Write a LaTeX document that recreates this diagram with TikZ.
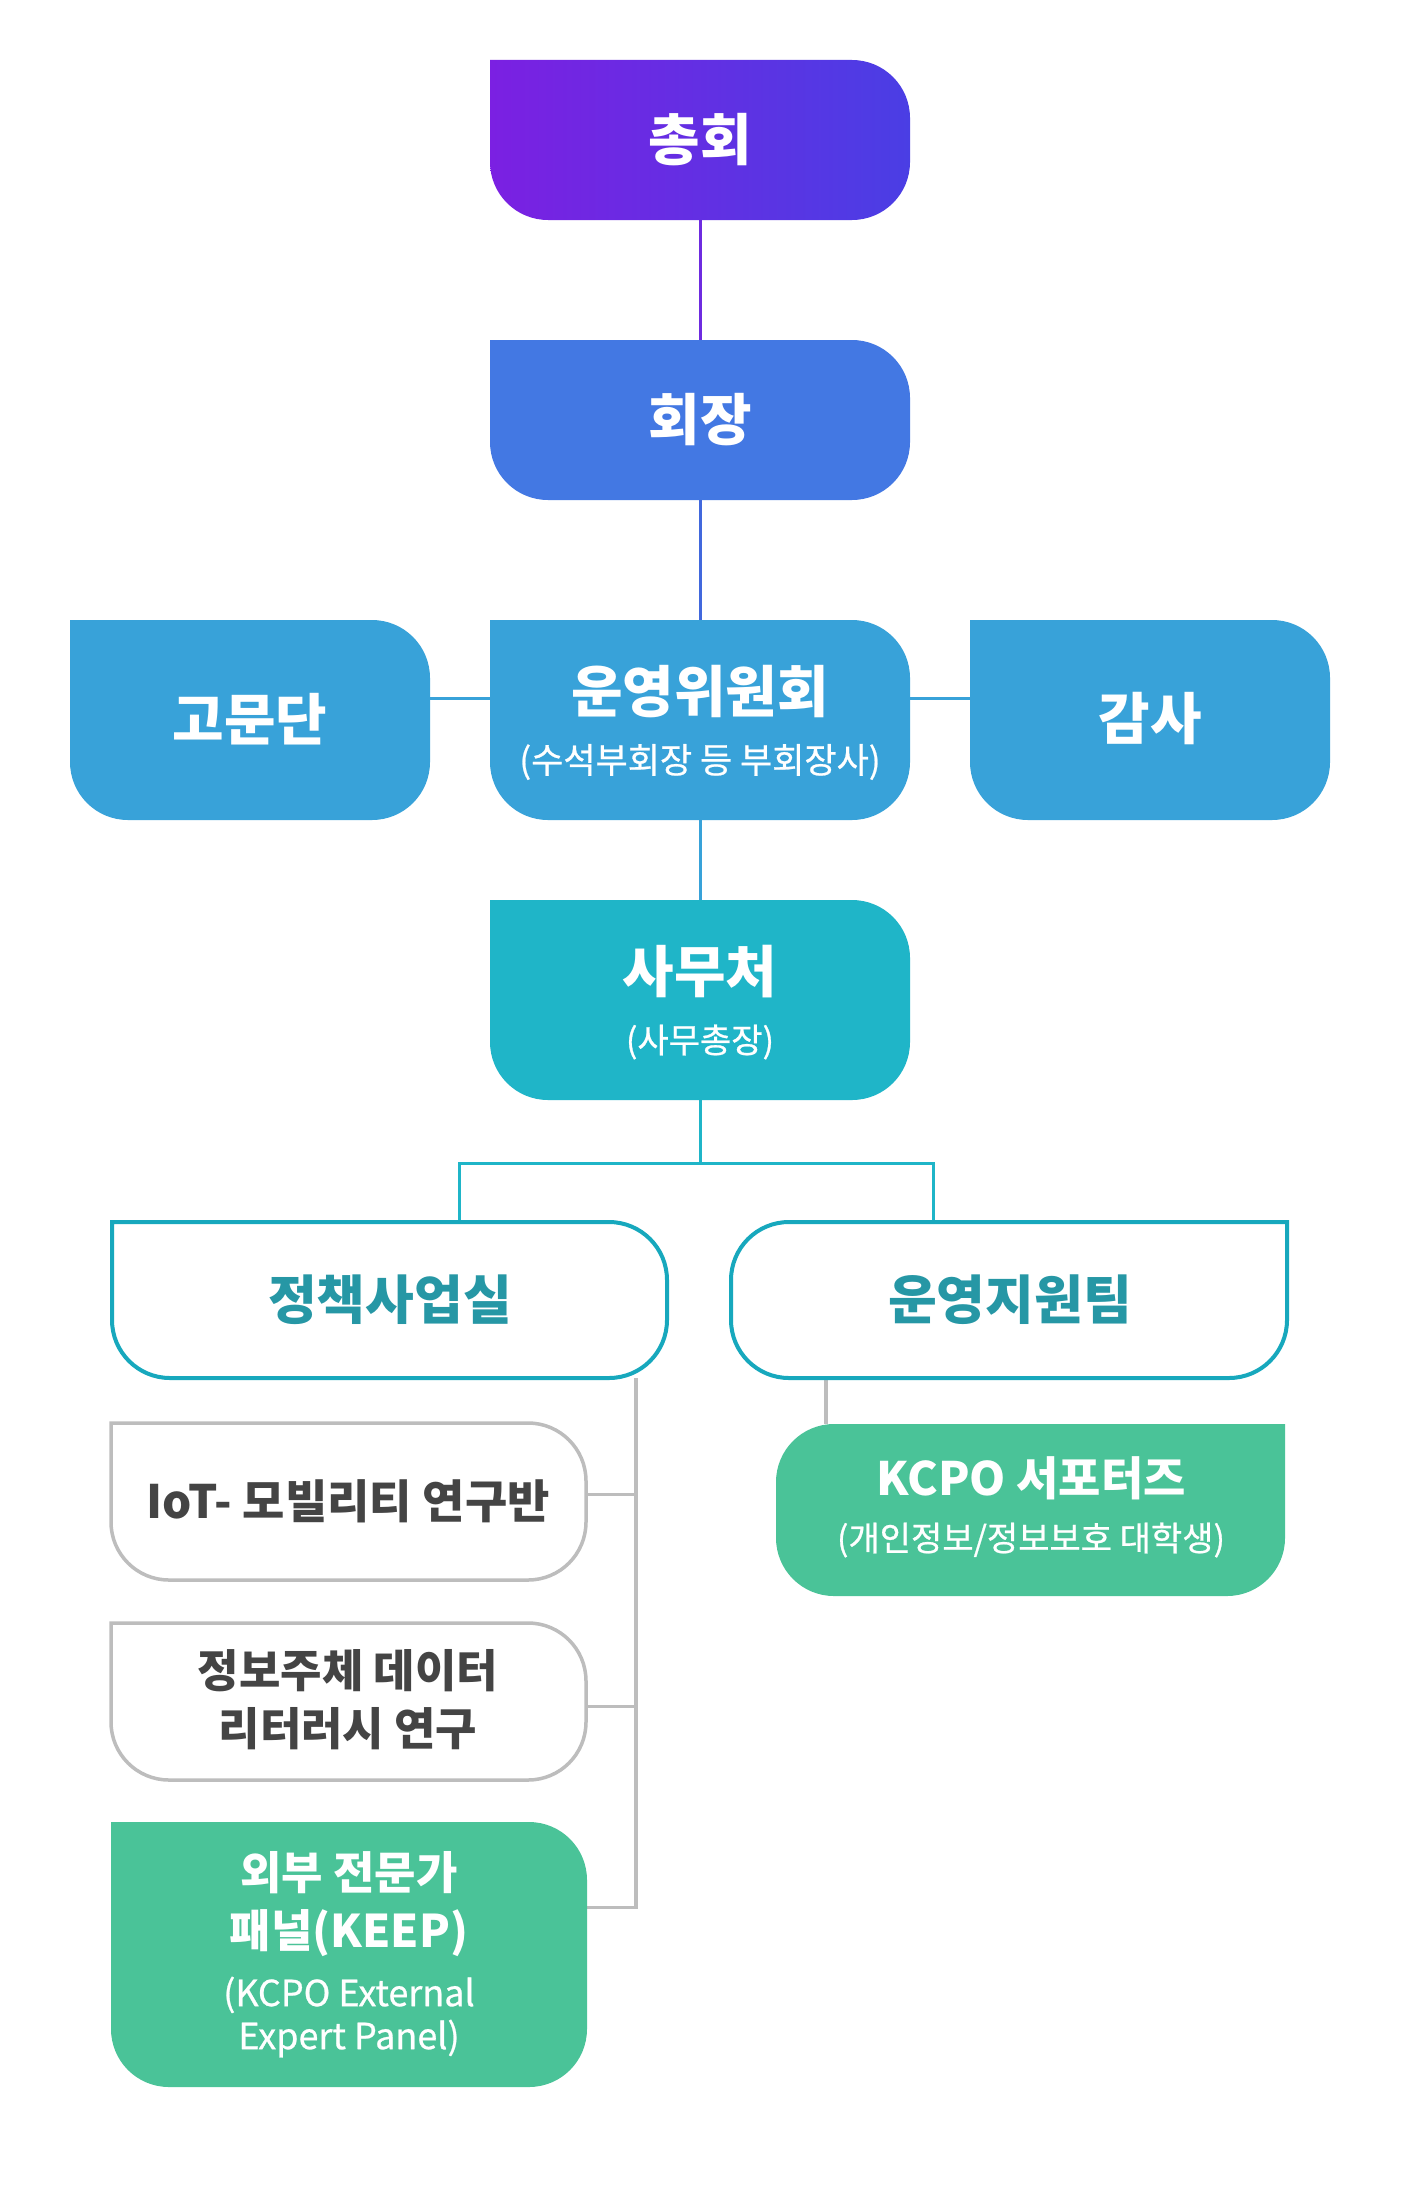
\documentclass[tikz,border=0pt]{standalone}
\usepackage{fontspec}
\newfontfamily\kr{Noto Sans CJK KR}
\newfontfamily\krs{Noto Sans CJK KR}[FakeBold=0.7]
\usetikzlibrary{calc,backgrounds}
\definecolor{cPurpleL}{HTML}{7B20E2}
\definecolor{cPurpleR}{HTML}{4A3EE4}
\definecolor{cBlue}{HTML}{4378E3}
\definecolor{cSky}{HTML}{38A2D9}
\definecolor{cCyan}{HTML}{1FB5C8}
\definecolor{cTealLine}{HTML}{17A8BD}
\definecolor{cTealText}{HTML}{2697A5}
\definecolor{cGreen}{HTML}{4AC398}
\definecolor{cGray}{HTML}{BDBDBD}
\definecolor{cDark}{HTML}{444444}
\definecolor{cLink1}{HTML}{6E2BE0}
\definecolor{cLink2}{HTML}{4168DD}
\newcommand\sqTL[2]{\path[#2] (#1.north west) -- ($(#1.north east)+(-58pt,0)$) arc[start angle=90,end angle=0,radius=58pt] -- ($(#1.south east)+(0,58pt)$) arc[start angle=0,end angle=-90,radius=58pt] -- ($(#1.south west)+(58pt,0)$) arc[start angle=270,end angle=180,radius=58pt] -- cycle;}
\newcommand\sqTR[2]{\path[#2] (#1.north east) -- ($(#1.south east)+(0,58pt)$) arc[start angle=0,end angle=-90,radius=58pt] -- ($(#1.south west)+(58pt,0)$) arc[start angle=270,end angle=180,radius=58pt] -- ($(#1.north west)+(0,-58pt)$) arc[start angle=180,end angle=90,radius=58pt] -- cycle;}
\tikzset{
  box/.style={inner sep=0pt, outer sep=0pt},
  ttl/.style={inner sep=0pt, font=\kr\bfseries\fontsize{56}{60}\selectfont, text=white},
  sub/.style={inner sep=0pt, font=\krs\fontsize{34}{40}\selectfont, text=white},
  mid/.style={inner sep=0pt, font=\kr\bfseries\fontsize{53}{60}\selectfont, text=cTealText},
  small/.style={inner sep=0pt, align=center, font=\kr\bfseries\fontsize{45}{58}\selectfont},
  lnk/.style={line width=3pt},
  gline/.style={line width=3.5pt, draw=cGray},
}
\begin{document}
\begin{tikzpicture}[x=1pt,y=1pt]
\useasboundingbox (0,0) rectangle (1400,-2194);
% box nodes
\node[box, minimum width=420pt, minimum height=160pt] (chonghoe) at (700,-140) {};
\node[box, minimum width=420pt, minimum height=160pt] (hoejang) at (700,-420) {};
\node[box, minimum width=360pt, minimum height=200pt] (gomun) at (250,-720) {};
\node[box, minimum width=420pt, minimum height=200pt] (unyeong) at (700,-720) {};
\node[box, minimum width=360pt, minimum height=200pt] (gamsa) at (1150,-720) {};
\node[box, minimum width=420pt, minimum height=200pt] (samu) at (700,-1000) {};
\node[box, minimum width=555pt, minimum height=156pt] (policy) at (389.5,-1300) {};
\node[box, minimum width=556pt, minimum height=156pt] (ops) at (1009,-1300) {};
\node[box, minimum width=475pt, minimum height=157pt] (iot) at (348.5,-1501.5) {};
\node[box, minimum width=475pt, minimum height=157pt] (info) at (348.5,-1701.5) {};
\node[box, minimum width=476pt, minimum height=265pt] (keep) at (349,-1954.5) {};
\node[box, minimum width=509pt, minimum height=172pt] (kcpo) at (1030.5,-1510) {};
% texts
\node[ttl] (chonghoe-t) at (700,-140) {총회};
\node[ttl] (hoejang-t) at (700,-420) {회장};
\node[ttl] (gomun-t) at (250,-719) {고문단};
\node[ttl] (unyeong-t) at (700,-692) {운영위원회};
\node[sub, font=\krs\fontsize{35}{40}\selectfont] (unyeong-s) at (700,-762) {(수석부회장 등 부회장사)};
\node[ttl] (gamsa-t) at (1150,-719) {감사};
\node[ttl] (samu-t) at (700,-972) {사무처};
\node[sub] (samu-s) at (700,-1042) {(사무총장)};
\node[mid] (policy-t) at (390,-1300) {정책사업실};
\node[mid] (ops-t) at (1010,-1300) {운영지원팀};
\node[small, text=cDark, font=\kr\bfseries\fontsize{46}{58}\selectfont] (iot-t) at (348,-1501) {IoT- 모빌리티 연구반};
\node[small, text=cDark] (info-t) at (348,-1700) {정보주체 데이터\\리터러시 연구};
\node[small, text=white] (keep-t) at (349,-1904) {외부 전문가\\패널(KEEP)};
\node[sub, align=center, font=\krs\fontsize{36}{43}\selectfont] (keep-s) at (349,-2017) {(KCPO External\\Expert Panel)};
\node[small, text=white, font=\kr\bfseries\fontsize{46}{50}\selectfont] (kcpo-t) at (1031,-1478) {KCPO 서포터즈};
\node[sub, font=\krs\fontsize{34}{40}\selectfont] (kcpo-s) at (1031,-1540) {(개인정보/정보보호 대학생)};
\begin{scope}[on background layer]
  \fill[white] (0,0) rectangle (1400,-2194);
  % connectors
  \draw[lnk, cLink1] (chonghoe.south) -- (hoejang.north);
  \draw[lnk, cLink2] (hoejang.south) -- (unyeong.north);
  \draw[lnk, cSky] ([yshift=22pt]gomun.east) -- ([yshift=22pt]unyeong.west);
  \draw[lnk, cSky] ([yshift=22pt]unyeong.east) -- ([yshift=22pt]gamsa.west);
  \draw[lnk, cSky] (unyeong.south) -- (samu.north);
  \coordinate (bar) at (700,-1163);
  \draw[lnk, cCyan] (samu.south) -- (bar);
  \draw[lnk, cCyan] ([xshift=70pt]policy.north) |- (bar) -| ([xshift=-76pt]ops.north);
  \coordinate (trunk) at ($(policy.south east)+(-31pt,0)$);
  \coordinate (kE) at ([yshift=47pt]keep.east);
  \coordinate (iE) at ([yshift=7pt]iot.east);
  \coordinate (nE) at ([yshift=-5pt]info.east);
  \draw[gline] (trunk) |- (kE);
  \draw[gline] (iE) -- (iE -| trunk);
  \draw[gline] (nE) -- (nE -| trunk);
  \coordinate (opsdrop) at ($(ops.south west)+(95pt,0)$);
  \draw[gline] (opsdrop) -- (opsdrop |- kcpo.north);
  % shapes
  \sqTL{chonghoe}{left color=cPurpleL, right color=cPurpleR}
  \sqTL{hoejang}{fill=cBlue}
  \sqTL{gomun}{fill=cSky}
  \sqTL{unyeong}{fill=cSky}
  \sqTL{gamsa}{fill=cSky}
  \sqTL{samu}{fill=cCyan}
  \sqTL{policy}{fill=white, draw=cTealLine, line width=4pt}
  \sqTR{ops}{fill=white, draw=cTealLine, line width=4pt}
  \sqTL{iot}{fill=white, draw=cGray, line width=3.5pt}
  \sqTL{info}{fill=white, draw=cGray, line width=3.5pt}
  \sqTL{keep}{fill=cGreen}
  \sqTR{kcpo}{fill=cGreen}
\end{scope}
\end{tikzpicture}
\end{document}
